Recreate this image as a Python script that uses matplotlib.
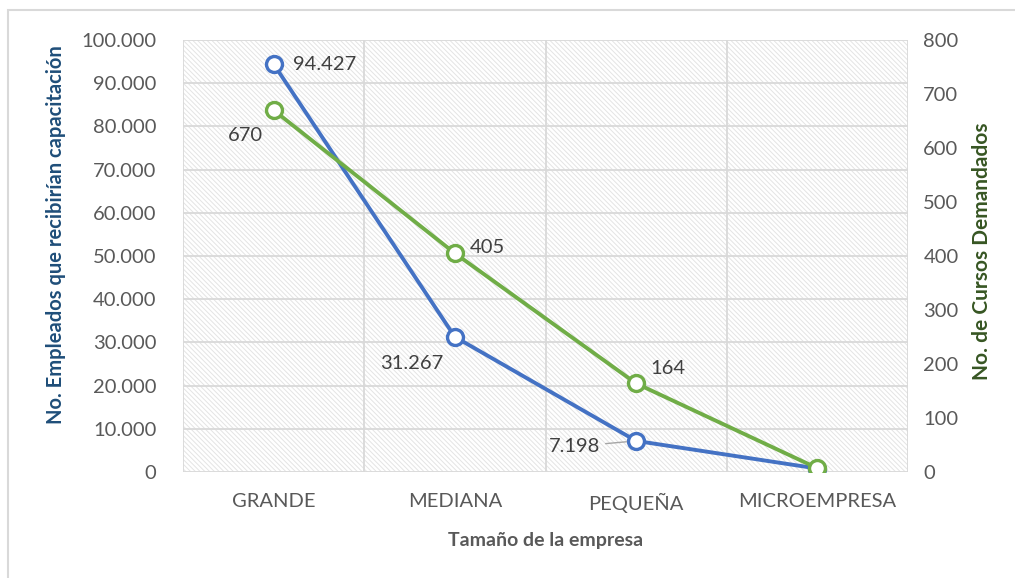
import matplotlib.pyplot as plt
from matplotlib.patches import Rectangle
from matplotlib.ticker import FuncFormatter, MultipleLocator

plt.rcParams['font.family'] = ['Lato', 'DejaVu Sans']
plt.rcParams['hatch.linewidth'] = 0.7

# data
CATEGORIES = ['GRANDE', 'MEDIANA', 'PEQUEÑA', 'MICROEMPRESA']
EMPLEADOS = [94427, 31267, 7198, 800]
CURSOS = [670, 405, 164, 7]
EMP_LABELS = ['94.427', '31.267', '7.198', None]
CUR_LABELS = ['670', '405', '164', None]

BLUE = '#4472C4'
GREEN = '#70AD47'
GRID = '#D9D9D9'
TICK = '#595959'

fig = plt.figure(figsize=(10.15, 5.78), dpi=100)
ax = fig.add_axes([0.1803, 0.1834, 0.7143, 0.7474])
ax2 = ax.twinx()

# outer chart border
fig.add_artist(Rectangle((0.008, -0.01), 1.1, 0.993, transform=fig.transFigure,
                         facecolor='none', edgecolor=GRID, lw=1.5))

# hatched plot area
ax.add_patch(Rectangle((0, 0), 1, 1, transform=ax.transAxes, facecolor='white',
                       edgecolor='#E4E4E4', hatch='\\' * 7, lw=0, zorder=0))

x = list(range(len(CATEGORIES)))
ax.set_xlim(-0.5, len(CATEGORIES) - 0.5)
ax.set_ylim(0, 100000)
ax2.set_ylim(0, 800)

# grid
for yv in range(10000, 100001, 10000):
    ax.axhline(yv, color=GRID, lw=1.3, zorder=1)
for xv in [-0.5, 0.5, 1.5, 2.5, 3.5]:
    ax.axvline(xv, color=GRID, lw=1.3, zorder=1)
ax.axhline(0, color=GRID, lw=1.3, zorder=1)

ax.plot(x, EMPLEADOS, color=BLUE, lw=2.8, marker='o', ms=11.5, mfc='white',
        mec=BLUE, mew=2.4, zorder=3)
ax2.plot(x, CURSOS, color=GREEN, lw=2.8, marker='o', ms=11.5, mfc='white',
         mec=GREEN, mew=2.4, zorder=3)

lab_kw = dict(fontsize=14.5, color='#404040')
# employee labels
ax.annotate(EMP_LABELS[0], (x[0], EMPLEADOS[0]), xytext=(14, 0),
            textcoords='offset points', ha='left', va='center', **lab_kw)
ax.annotate(EMP_LABELS[1], (x[1], EMPLEADOS[1]), xytext=(-8, -19),
            textcoords='offset points', ha='right', va='center', **lab_kw)
ax.annotate(EMP_LABELS[2], (x[2], EMPLEADOS[2]), xytext=(-26, -4),
            textcoords='offset points', ha='right', va='center',
            arrowprops=dict(arrowstyle='-', color='#A6A6A6', lw=1,
                            shrinkA=2, shrinkB=7), **lab_kw)
# course labels
ax2.annotate(CUR_LABELS[0], (x[0], CURSOS[0]), xytext=(-8, -18),
             textcoords='offset points', ha='right', va='center', **lab_kw)
ax2.annotate(CUR_LABELS[1], (x[1], CURSOS[1]), xytext=(11, 4),
             textcoords='offset points', ha='left', va='center', **lab_kw)
ax2.annotate(CUR_LABELS[2], (x[2], CURSOS[2]), xytext=(10, 11),
             textcoords='offset points', ha='left', va='center', **lab_kw)

ax.set_xticks(x)
ax.set_xticklabels(CATEGORIES)
ax.yaxis.set_major_locator(MultipleLocator(10000))
ax.yaxis.set_major_formatter(FuncFormatter(lambda v, p: f'{int(v):,}'.replace(',', '.')))
ax2.yaxis.set_major_locator(MultipleLocator(100))

for a in (ax, ax2):
    for s in a.spines.values():
        s.set_visible(False)
    a.tick_params(length=0, labelsize=14.5, colors=TICK)
ax.tick_params(axis='y', pad=19)
ax.tick_params(axis='x', pad=15)
ax2.tick_params(axis='y', pad=11)

ax.set_xlabel('Tamaño de la empresa', fontsize=14, fontweight='bold',
              color=TICK, labelpad=14)
ax.set_ylabel('No. Empleados que recibirían capacitación', fontsize=14.5,
              fontweight='bold', color='#1F4E79', va='center')
ax.yaxis.set_label_coords(-0.175, 0.55)
ax2.set_ylabel('No. de Cursos Demandados', fontsize=15, fontweight='bold',
               color='#375623', va='center')
ax2.yaxis.set_label_coords(1.102, 0.51)

fig.savefig('out.png', dpi=100)
